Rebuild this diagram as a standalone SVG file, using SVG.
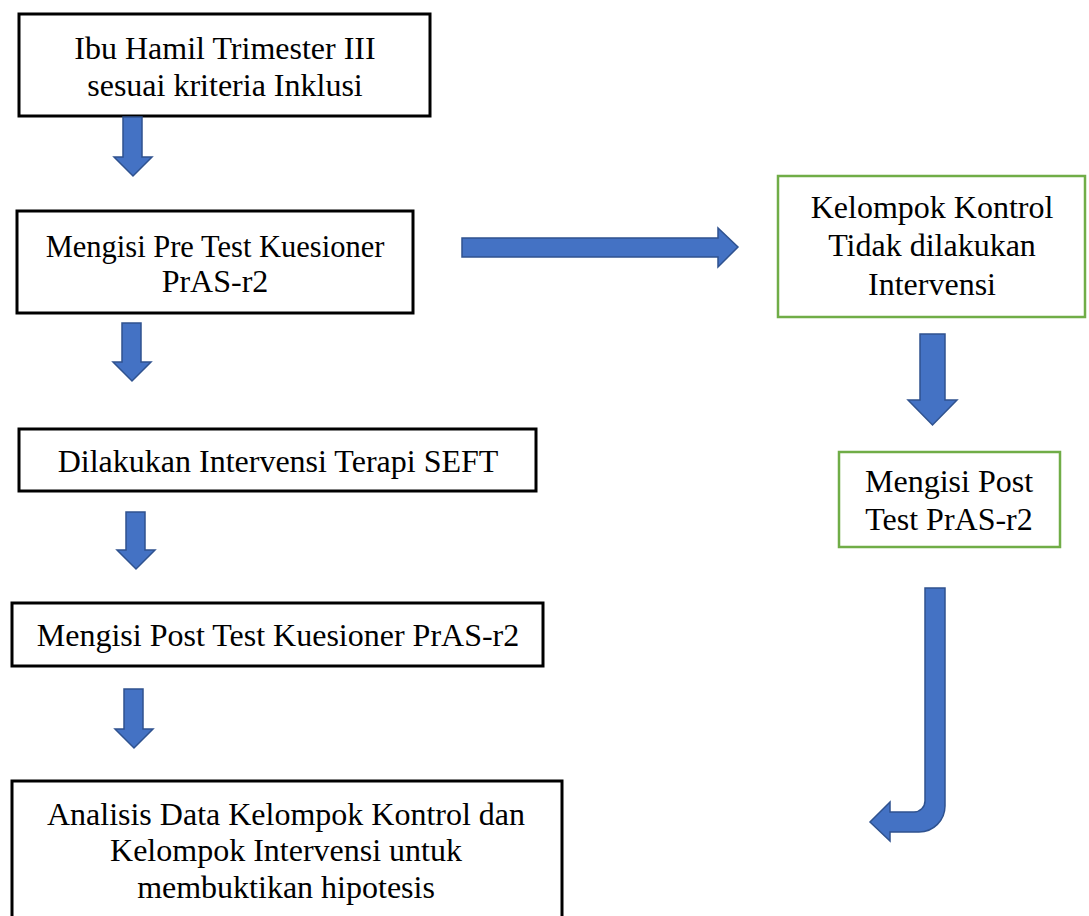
<svg xmlns="http://www.w3.org/2000/svg" width="1089" height="916" viewBox="0 0 1089 916">
<style>
.box{fill:#fff;stroke:#000;stroke-width:3}
.gbox{fill:#fff;stroke:#70AD47;stroke-width:2.5}
.arr{fill:#4472C4;stroke:#2F528F;stroke-width:1.5;stroke-linejoin:miter}
text{font-family:"Liberation Serif","Times New Roman",serif;font-size:32px;fill:#000;text-anchor:middle}
.s30{font-size:30.5px}
</style>
<rect width="1089" height="916" fill="#fff"/>
<g id="n1"><rect class="box" x="19" y="14" width="411" height="102"/>
<text x="225" y="59">Ibu Hamil Trimester III</text><text x="225" y="96">sesuai kriteria Inklusi</text></g>
<g id="n2"><rect class="box" x="17" y="211" width="396" height="102"/>
<text x="215" y="257" class="s30">Mengisi Pre Test Kuesioner</text><text x="215" y="292">PrAS-r2</text></g>
<g id="n3"><rect class="box" x="19" y="429" width="517" height="62"/>
<text x="278" y="472">Dilakukan Intervensi Terapi SEFT</text></g>
<g id="n4"><rect class="box" x="12" y="603" width="531" height="63"/>
<text x="278" y="646">Mengisi Post Test Kuesioner PrAS-r2</text></g>
<g id="n5"><rect class="box" x="12" y="781" width="550" height="140"/>
<text x="286" y="825">Analisis Data Kelompok Kontrol dan</text><text x="286" y="861">Kelompok Intervensi untuk</text><text x="286" y="898">membuktikan hipotesis</text></g>
<g id="n6"><rect class="gbox" x="778" y="176" width="307" height="141"/>
<text x="932" y="218">Kelompok Kontrol</text><text x="932" y="256">Tidak dilakukan</text><text x="932" y="295">Intervensi</text></g>
<g id="n7"><rect class="gbox" x="839" y="452" width="221" height="95"/>
<text x="949" y="492">Mengisi Post</text><text x="949" y="530">Test PrAS-r2</text></g>
<g id="connectors">
<path class="arr" d="M123,117 H142 V157 H152 L133,176 L114,157 H123 Z"/>
<path class="arr" d="M122,323 H141 V362 H151 L132,381 L113,362 H122 Z"/>
<path class="arr" d="M126,512 H145 V550 H155 L136,569 L117,550 H126 Z"/>
<path class="arr" d="M124,689 H143 V729 H153 L134,748 L115,729 H124 Z"/>
<path class="arr" d="M462,238 H718 V228 L738,247 L718,267 V257 H462 Z"/>
<path class="arr" d="M920,334 H945 V400 H957 L932.5,425 L908,400 H920 Z"/>
<path class="arr" d="M925,588 H945 V806 A26,26 0 0 1 919,832 H890 V841 L870,822 L890,802 V812 H914 A11,11 0 0 0 925,801 Z"/>
</g>
</svg>
